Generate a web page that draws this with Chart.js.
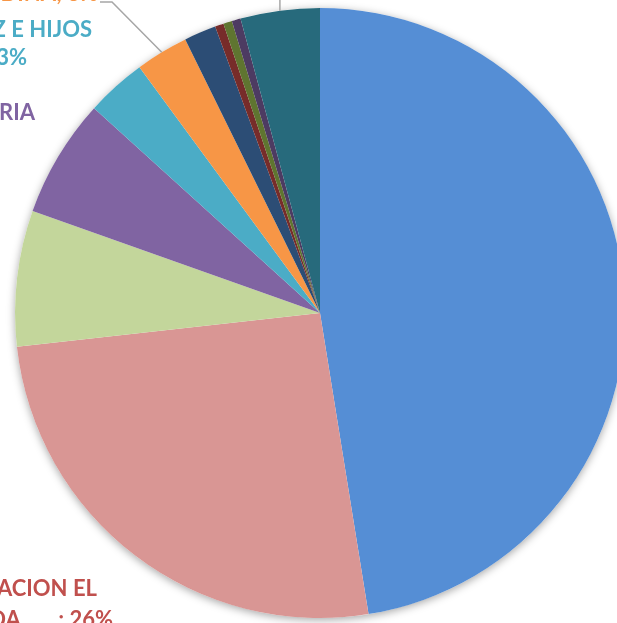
<!DOCTYPE html>
<html>
<head>
<meta charset="utf-8">
<script src="https://cdn.jsdelivr.net/npm/chart.js@4"></script>
<style>
    html, body { margin: 0; padding: 0; background: #fff; overflow: hidden; }
    #wrap { position: absolute; left: 0; top: 0; width: 640px; height: 626px; }
</style>
</head>
<body>
<div id="wrap"><canvas id="myChart" width="640" height="626"></canvas></div>
<script>
// Data

var categories = [
    "DISTRIBUIDORA PRINCIPAL",
    "COOPERATIVA DE COMERCIALIZACION EL PALMA LTDA.",
    "SUMINISTROS DEL SUR",
    "DISTRIBUIDORA FERRETERIA",
    "COMERCIAL GONZALEZ E HIJOS",
    "IMPORTADORA ANDINA",
    "TRANSPORTES DEL NORTE",
    "SERVICIOS VARIOS",
    "AGROINSUMOS",
    "OTROS PROVEEDORES",
    "GRUPO CENTRAL"
];
var shares = [47.5, 25.8, 7.2, 6.3, 3.2, 2.8, 1.7, 0.46, 0.46, 0.47, 4.2];
var colors = ['#558ED5', '#D99694', '#C3D69B', '#8064A2', '#4BACC6', '#F79646',
              '#2C4D75', '#772C2A', '#5F7530', '#4D3B62', '#276A7C'];

// Labels (text lines, offsets from pie centre)

var labels = [
    { slice: 1, color: '#C0504D', lines: [
        { text: 'COOPERATIVA DE COMERCIALIZACION EL', dx: -223, dy: 283 },
        { text: 'PALMA LTDA.      ; 26%', dx: -207, dy: 314 }
    ] },
    { slice: 3, color: '#8064A2', lines: [
        { text: 'DISTRIBUIDORA FERRETERIA', dx: -285, dy: -193 }
    ] },
    { slice: 4, color: '#4BACC6', lines: [
        { text: 'COMERCIAL GONZALEZ E HIJOS', dx: -228, dy: -276 },
        { text: 'LTDA; 3%', dx: -293, dy: -248 }
    ] },
    { slice: 5, color: '#F79646', leader: { dx: -208, dy: -311 }, lines: [
        { text: 'IMPORTADORA ANDINA; 3%', dx: -222, dy: -312 }
    ] },
    { slice: 10, color: '#276A7C', leader: { dx: -39, dy: -330 }, lines: [] }
];

// Soft shadow behind the pie

var pieShadow = {
    id: 'pieShadow',
    beforeDatasetsDraw: function (chart) {
        var arc = chart.getDatasetMeta(0).data[0];
        var ctx = chart.ctx;
        ctx.save();
        ctx.shadowColor = 'rgba(0,0,0,0.35)';
        ctx.shadowBlur = 9;
        ctx.shadowOffsetX = 0;
        ctx.shadowOffsetY = 2;
        ctx.fillStyle = '#ffffff';
        ctx.beginPath();
        ctx.arc(arc.x, arc.y, arc.outerRadius, 0, Math.PI * 2);
        ctx.fill();
        ctx.restore();
    }
};

// Outside labels + leader lines

var pieLabels = {
    id: 'pieLabels',
    afterDatasetsDraw: function (chart) {
        var ctx = chart.ctx;
        var arcs = chart.getDatasetMeta(0).data;
        ctx.save();
        ctx.font = 'bold 22px Lato, "Open Sans", sans-serif';
        ctx.textAlign = 'right';
        ctx.textBaseline = 'alphabetic';
        labels.forEach(function (lab) {
            var a = arcs[lab.slice];
            var mid = (a.startAngle + a.endAngle) / 2;
            if (lab.leader) {
                var ex = a.x + Math.cos(mid) * a.outerRadius;
                var ey = a.y + Math.sin(mid) * a.outerRadius;
                ctx.strokeStyle = '#A6A6A6';
                ctx.lineWidth = 1.5;
                ctx.beginPath();
                ctx.moveTo(ex, ey);
                if (lab.slice === 10) {
                    ctx.lineTo(ex, a.y + lab.leader.dy);
                } else {
                    ctx.lineTo(a.x + lab.leader.dx, a.y + lab.leader.dy);
                    ctx.lineTo(a.x + lab.leader.dx - 12, a.y + lab.leader.dy);
                }
                ctx.stroke();
            }
            ctx.fillStyle = lab.color;
            lab.lines.forEach(function (ln) {
                ctx.fillText(ln.text, a.x + ln.dx, a.y + ln.dy);
            });
        });
        ctx.restore();
    }
};

var ctx = document.getElementById('myChart').getContext('2d');
var chart = new Chart(ctx, {
    type: 'pie',
    data: {
        labels: categories,
        datasets: [{
            data: shares,
            backgroundColor: colors,
            borderWidth: 0,
            hoverOffset: 0,
            offset: 0
        }]
    },
    options: {
        responsive: false,
        animation: false,
        layout: { padding: { left: 15, right: 15, top: 8, bottom: 8 } },
        plugins: {
            legend: { display: false },
            tooltip: { enabled: false }
        }
    },
    plugins: [pieShadow, pieLabels]
});
</script>
</body>
</html>
